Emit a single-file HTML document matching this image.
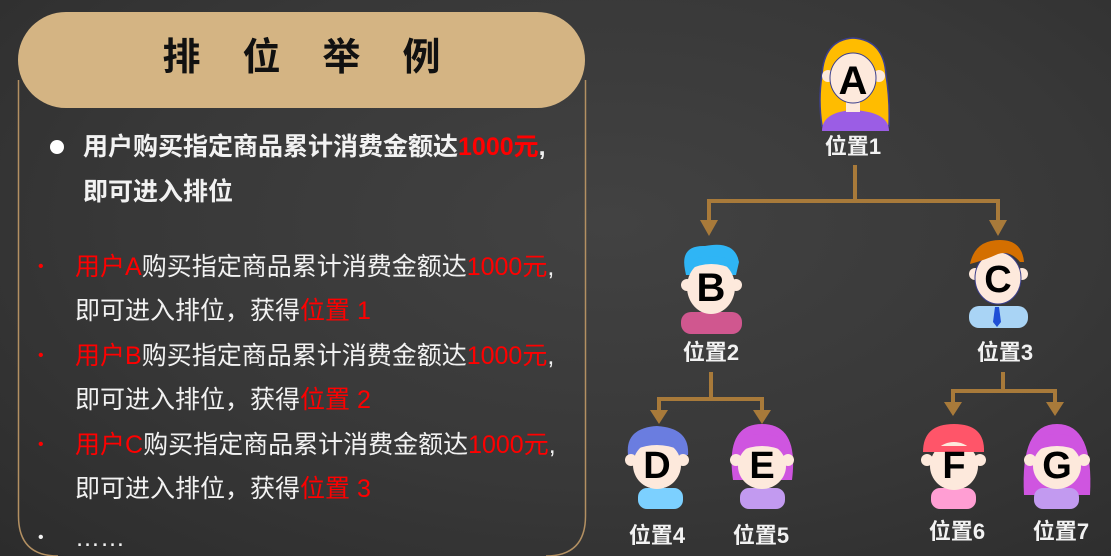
<!DOCTYPE html>
<html><head><meta charset="utf-8">
<style>
html,body{margin:0;padding:0}
body{width:1111px;height:556px;overflow:hidden;position:relative;
background:radial-gradient(ellipse at 55% 40%,#424242 0%,#383838 55%,#2c2c2c 100%);
font-family:"Liberation Sans","Noto Sans CJK SC",sans-serif;}
.t{position:absolute;white-space:nowrap;color:#f2f2f2;font-size:25px;line-height:32px}
.r{color:#ff0000}
.b{font-weight:bold;font-size:25px}
.lab{position:absolute;color:#f2f2f2;font-weight:bold;font-size:22px;white-space:nowrap;transform:translateX(-50%);line-height:26px}
svg{position:absolute;left:0;top:0}
</style></head><body>
<svg width="1111" height="556" viewBox="0 0 1111 556">
  <path d="M18.5 80 V516 Q18.5 556 58 556 M585.5 80 V516 Q585.5 556 546 556" fill="none" stroke="#b39062" stroke-width="1.5"/>
  <rect x="18" y="12" width="567" height="96" rx="48" fill="#d4b483"/>
  <g fill="none" stroke="#a87a3a" stroke-width="4">
    <path d="M855 165 V201 M709 201 H998 M709 199 V222 M998 199 V222"/>
    <path d="M711 372 V399 M659 399 H762 M659 397 V412 M762 397 V412"/>
    <path d="M1003 372 V391 M953 391 H1055 M953 389 V404 M1055 389 V404"/>
  </g>
  <g fill="#a87a3a">
    <path d="M700 220 H718 L709 236 Z"/><path d="M989 220 H1007 L998 236 Z"/>
    <path d="M650 410 H668 L659 424 Z"/><path d="M753 410 H771 L762 424 Z"/>
    <path d="M944 402 H962 L953 416 Z"/><path d="M1046 402 H1064 L1055 416 Z"/>
  </g>
  <!-- A -->
  <g>
    <path d="M822 126 Q818 100 822 75 Q824 40 853 38 Q884 40 886 75 Q890 100 889 126 Z" fill="#ffbc00" stroke="#3b3f8c" stroke-width="1.5"/>
    <path d="M822 131 Q822 112 853 110 Q889 112 889 131 Z" fill="#9b5de5"/>
    <rect x="846" y="98" width="14" height="14" fill="#fde9dc"/>
    <circle cx="828" cy="76" r="6" fill="#fde9dc"/><circle cx="879" cy="76" r="6" fill="#fde9dc"/>
    <ellipse cx="853" cy="78" rx="23" ry="25" fill="#fde9dc" stroke="#3b3f8c" stroke-width="1"/>
    <text x="853" y="94" font-size="40" font-weight="bold" text-anchor="middle" fill="#000">A</text>
  </g>
  <!-- B -->
  <g>
    <rect x="681" y="312" width="61" height="22" rx="10" fill="#d0578f"/>
    <path d="M685 270 Q680 245 705 246 Q735 240 739 262 L736 275 L686 275 Z" fill="#2fb5f5"/>
    <circle cx="687" cy="285" r="6" fill="#fde9dc"/><circle cx="736" cy="285" r="6" fill="#fde9dc"/>
    <ellipse cx="711" cy="287" rx="24" ry="27" fill="#fde9dc"/>
    <path d="M688 270 Q711 258 735 270 L735 262 Q711 250 688 262Z" fill="#2fb5f5"/>
    <text x="711" y="301" font-size="40" font-weight="bold" text-anchor="middle" fill="#000">B</text>
  </g>
  <!-- C -->
  <g>
    <rect x="969" y="306" width="59" height="22" rx="10" fill="#a9d4f5"/>
    <path d="M995 307 L999 307 L1001 322 L997 327 L993 322Z" fill="#1f4fd6"/>
    <circle cx="975" cy="274" r="6" fill="#fde9dc"/><circle cx="1022" cy="274" r="6" fill="#fde9dc"/>
    <ellipse cx="998" cy="278" rx="23" ry="26" fill="#fde9dc" stroke="#3b3f8c" stroke-width="1"/>
    <path d="M970 264 Q975 240 1000 240 Q1022 240 1024 262 L1020 262 Q1010 250 998 254 Q985 260 970 264Z" fill="#d46f00"/>
    <text x="998" y="292" font-size="38" font-weight="bold" text-anchor="middle" fill="#000">C</text>
  </g>
  <!-- D -->
  <g>
    <rect x="638" y="488" width="45" height="21" rx="9" fill="#7cd0ff"/>
    <path d="M628 455 Q625 428 657 426 Q690 428 688 455Z" fill="#6a7de0"/>
    <circle cx="631" cy="460" r="6" fill="#fde9dc"/><circle cx="683" cy="460" r="6" fill="#fde9dc"/>
    <ellipse cx="657" cy="465" rx="24" ry="24" fill="#fde9dc"/>
    <path d="M634 450 Q657 440 680 450 L680 444 Q657 434 634 444Z" fill="#6a7de0"/>
    <text x="657" y="478" font-size="38" font-weight="bold" text-anchor="middle" fill="#000">D</text>
  </g>
  <!-- E -->
  <g>
    <rect x="740" y="488" width="45" height="21" rx="9" fill="#c29af0"/>
    <path d="M733 480 Q725 424 762 424 Q799 424 792 480Z" fill="#cf55e0"/>
    <circle cx="736" cy="460" r="6" fill="#fde9dc"/><circle cx="788" cy="460" r="6" fill="#fde9dc"/>
    <ellipse cx="762" cy="466" rx="24" ry="23" fill="#fde9dc"/>
    <path d="M738 452 Q762 440 786 452 L786 440 Q762 428 738 440Z" fill="#cf55e0"/>
    <text x="762" y="478" font-size="38" font-weight="bold" text-anchor="middle" fill="#000">E</text>
  </g>
  <!-- F -->
  <g>
    <rect x="931" y="488" width="45" height="21" rx="9" fill="#ff9ed3"/>
    <path d="M923 452 Q923 424 954 424 Q985 424 984 452Z" fill="#ff5569"/>
    <circle cx="927" cy="460" r="6" fill="#fde9dc"/><circle cx="980" cy="460" r="6" fill="#fde9dc"/>
    <ellipse cx="954" cy="466" rx="24" ry="24" fill="#fde9dc"/>
    <path d="M929 452 L979 452 L979 446 L929 446Z" fill="#ff5569"/>
    <text x="954" y="478" font-size="38" font-weight="bold" text-anchor="middle" fill="#000">F</text>
  </g>
  <!-- G -->
  <g>
    <path d="M1024 495 Q1020 424 1057 424 Q1094 424 1090 495Z" fill="#cf55e0"/>
    <rect x="1034" y="488" width="45" height="21" rx="9" fill="#c29af0"/>
    <circle cx="1030" cy="460" r="6" fill="#fde9dc"/><circle cx="1084" cy="460" r="6" fill="#fde9dc"/>
    <ellipse cx="1057" cy="466" rx="24" ry="23" fill="#fde9dc"/>
    <path d="M1033 452 Q1057 440 1081 452 L1081 440 Q1057 428 1033 440Z" fill="#cf55e0"/>
    <text x="1057" y="478" font-size="38" font-weight="bold" text-anchor="middle" fill="#000">G</text>
  </g>
</svg>

<div style="position:absolute;left:18px;top:12px;width:567px;height:92px;line-height:92px;text-align:center;font-size:38px;font-weight:bold;color:#111;letter-spacing:42px;text-indent:42px">排位举例</div>

<div style="position:absolute;left:50px;top:140px;width:14px;height:14px;border-radius:50%;background:#fff"></div>
<div class="t b" style="left:83px;top:131px">用户购买指定商品累计消费金额达<span class="r">1000元</span>,</div>
<div class="t b" style="left:83px;top:176px">即可进入排位</div>

<div class="t r" style="left:38px;top:251px;font-size:16px">•</div>
<div class="t" style="left:75px;top:251px"><span class="r">用户A</span>购买指定商品累计消费金额达<span class="r">1000元</span>,</div>
<div class="t" style="left:75px;top:295px">即可进入排位，获得<span class="r">位置 1</span></div>
<div class="t r" style="left:38px;top:340px;font-size:16px">•</div>
<div class="t" style="left:75px;top:340px"><span class="r">用户B</span>购买指定商品累计消费金额达<span class="r">1000元</span>,</div>
<div class="t" style="left:75px;top:384px">即可进入排位，获得<span class="r">位置 2</span></div>
<div class="t r" style="left:38px;top:429px;font-size:16px">•</div>
<div class="t" style="left:75px;top:429px"><span class="r">用户C</span>购买指定商品累计消费金额达<span class="r">1000元</span>,</div>
<div class="t" style="left:75px;top:473px">即可进入排位，获得<span class="r">位置 3</span></div>
<div class="t" style="left:38px;top:522px;font-size:16px">•</div>
<div class="t" style="left:75px;top:522px">……</div>

<div class="lab" style="left:853px;top:134px">位置1</div>
<div class="lab" style="left:711px;top:340px">位置2</div>
<div class="lab" style="left:1005px;top:340px">位置3</div>
<div class="lab" style="left:657px;top:523px">位置4</div>
<div class="lab" style="left:761px;top:523px">位置5</div>
<div class="lab" style="left:957px;top:519px">位置6</div>
<div class="lab" style="left:1061px;top:519px">位置7</div>
</body></html>
